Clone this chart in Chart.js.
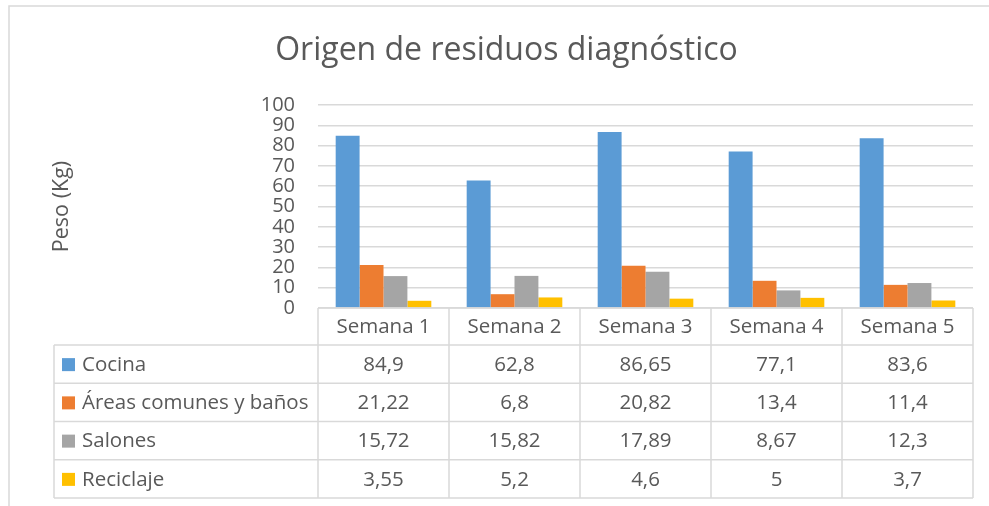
<!DOCTYPE html>
<html>
<head>
<meta charset="utf-8">
<script src="https://cdn.jsdelivr.net/npm/chart.js@4.4.1/dist/chart.umd.min.js"></script>
<style>
  html, body { margin: 0; padding: 0; background: #ffffff; }
  #wrap { width: 989px; height: 506px; position: relative; }
</style>
</head>
<body>
<div id="wrap"><canvas id="c" width="989" height="506"></canvas></div>
<script>
const chartTitle = 'Origen de residuos diagnóstico';
const yAxisTitle = 'Peso (Kg)';
const categories = ['Semana 1', 'Semana 2', 'Semana 3', 'Semana 4', 'Semana 5'];
const seriesNames = ['Cocina', 'Áreas comunes y baños', 'Salones', 'Reciclaje'];
const cocina = [84.9, 62.8, 86.65, 77.1, 83.6];
const areasComunes = [21.22, 6.8, 20.82, 13.4, 11.4];
const salones = [15.72, 15.82, 17.89, 8.67, 12.3];
const reciclaje = [3.55, 5.2, 4.6, 5, 3.7];
const yTicks = [0, 10, 20, 30, 40, 50, 60, 70, 80, 90, 100];

const seriesValues = [cocina, areasComunes, salones, reciclaje];
const seriesColors = ['#5B9BD5', '#ED7D31', '#A5A5A5', '#FFC000'];
const FONT = '"Open Sans", sans-serif';
const TEXT = '#595959';
const LINE = '#d9d9d9';

function fmt(v) { return String(v).replace('.', ','); }

const tablePlugin = {
  id: 'dataTable',
  beforeDraw(chart) {
    const ctx = chart.ctx;
    ctx.save();
    ctx.strokeStyle = LINE;
    ctx.lineWidth = 1.5;
    ctx.beginPath();
    ctx.moveTo(9, 506); ctx.lineTo(9, 6); ctx.lineTo(989, 6);
    ctx.stroke();
    ctx.restore();
  },
  afterDraw(chart) {
    const ctx = chart.ctx;
    const xs = chart.scales.x;
    const area = chart.chartArea;
    const n = categories.length;
    const colW = (area.right - area.left) / n;
    const top = area.bottom;
    const headerH = 37;
    const rowH = 38.25;
    const tableLeft = 54;
    const bottom = top + headerH + rowH * seriesNames.length;
    ctx.save();
    ctx.strokeStyle = LINE;
    ctx.lineWidth = 1.5;
    ctx.beginPath();
    ctx.moveTo(area.left, top); ctx.lineTo(area.right, top);
    for (let r = 0; r <= seriesNames.length; r++) {
      const y = top + headerH + rowH * r;
      ctx.moveTo(tableLeft, y); ctx.lineTo(area.right, y);
    }
    for (let i = 0; i <= n; i++) {
      const x = xs.getPixelForValue(0) - colW / 2 + colW * i;
      ctx.moveTo(x, top); ctx.lineTo(x, bottom);
    }
    ctx.moveTo(tableLeft, top + headerH); ctx.lineTo(tableLeft, bottom);
    ctx.stroke();

    ctx.fillStyle = TEXT;
    ctx.font = '20.5px ' + FONT;
    ctx.textAlign = 'center';
    ctx.textBaseline = 'middle';
    categories.forEach((c, i) => {
      ctx.fillText(c, xs.getPixelForValue(i), top + headerH / 2 + 1);
    });
    seriesNames.forEach((name, r) => {
      const yc = top + headerH + rowH * r + rowH / 2 + 1;
      ctx.fillStyle = seriesColors[r];
      ctx.fillRect(62, yc - 7, 13, 13);
      ctx.fillStyle = TEXT;
      ctx.textAlign = 'left';
      ctx.fillText(name, 82, yc);
      ctx.textAlign = 'center';
      seriesValues[r].forEach((v, i) => {
        ctx.fillText(fmt(v), xs.getPixelForValue(i), yc);
      });
    });
    ctx.restore();
  }
};

new Chart(document.getElementById('c'), {
  type: 'bar',
  data: {
    labels: categories,
    datasets: seriesNames.map((name, i) => ({
      label: name,
      data: seriesValues[i],
      backgroundColor: seriesColors[i],
      borderWidth: 0,
      categoryPercentage: 0.73,
      barPercentage: 1.0
    }))
  },
  options: {
    responsive: false,
    animation: false,
    devicePixelRatio: 1,
    layout: { padding: { left: 40, right: 16, top: 0, bottom: 198 } },
    plugins: {
      legend: { display: false },
      tooltip: { enabled: false },
      title: {
        display: true,
        text: chartTitle,
        color: TEXT,
        font: { family: FONT, size: 32, weight: 'normal', lineHeight: 1.2 },
        padding: { top: 32, bottom: 34.6 }
      }
    },
    scales: {
      x: { display: false },
      y: {
        min: 0, max: 100,
        afterBuildTicks(scale) { scale.ticks = yTicks.map(v => ({ value: v })); },
        afterFit(scale) { scale.width = 278; },
        border: { display: false },
        grid: { color: LINE, lineWidth: 1.5, drawTicks: false },
        ticks: { color: TEXT, font: { family: FONT, size: 20 }, padding: 23, autoSkip: false },
        title: {
          display: true, text: yAxisTitle, color: TEXT,
          font: { family: FONT, size: 21.5 }, padding: { top: 9, bottom: 0 }
        }
      }
    }
  },
  plugins: [tablePlugin]
});
</script>
</body>
</html>
